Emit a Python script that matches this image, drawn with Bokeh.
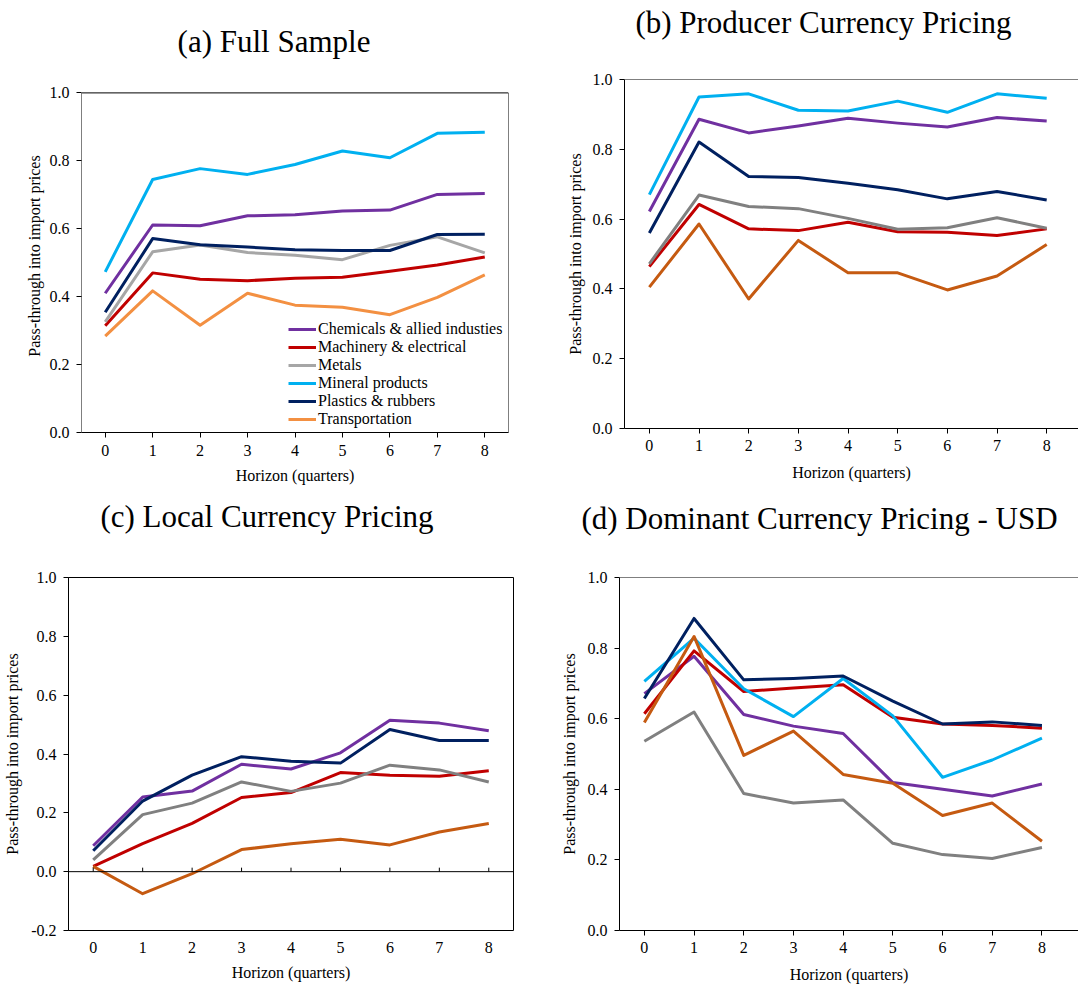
from bokeh.plotting import figure
from bokeh.layouts import column, row
from bokeh.models import (Legend, LegendItem, Span, FixedTicker, BoxAnnotation,
                          NumeralTickFormatter, Range1d)
from bokeh.core.properties import value
from bokeh.embed import file_html
from bokeh.resources import INLINE

# ---------------- data ----------------
horizon = [0, 1, 2, 3, 4, 5, 6, 7, 8]
series_names = ["Chemicals & allied industies", "Machinery & electrical", "Metals",
                "Mineral products", "Plastics & rubbers", "Transportation"]

# (a) Full Sample
a_chem = [0.410, 0.611, 0.609, 0.638, 0.641, 0.652, 0.655, 0.701, 0.704]
a_mach = [0.314, 0.470, 0.451, 0.447, 0.454, 0.457, 0.475, 0.493, 0.517]
a_metals = [0.326, 0.532, 0.552, 0.530, 0.522, 0.509, 0.551, 0.576, 0.529]
a_mineral = [0.473, 0.745, 0.777, 0.760, 0.789, 0.829, 0.809, 0.881, 0.884]
a_plastics = [0.354, 0.571, 0.553, 0.546, 0.538, 0.536, 0.536, 0.583, 0.584]
a_transport = [0.284, 0.417, 0.316, 0.410, 0.375, 0.369, 0.347, 0.398, 0.464]

# (b) Producer Currency Pricing
b_chem = [0.622, 0.886, 0.847, 0.867, 0.889, 0.875, 0.864, 0.891, 0.881]
b_mach = [0.464, 0.642, 0.572, 0.567, 0.591, 0.564, 0.562, 0.553, 0.572]
b_metals = [0.472, 0.669, 0.636, 0.630, 0.602, 0.571, 0.575, 0.604, 0.574]
b_mineral = [0.670, 0.950, 0.959, 0.912, 0.910, 0.938, 0.906, 0.959, 0.946]
b_plastics = [0.560, 0.821, 0.722, 0.719, 0.703, 0.684, 0.658, 0.679, 0.655]
b_transport = [0.405, 0.586, 0.371, 0.539, 0.446, 0.446, 0.397, 0.437, 0.527]

# (c) Local Currency Pricing
c_chem = [0.088, 0.254, 0.274, 0.365, 0.349, 0.404, 0.515, 0.505, 0.479]
c_mach = [0.018, 0.095, 0.164, 0.252, 0.269, 0.337, 0.328, 0.324, 0.343]
c_metals = [0.040, 0.194, 0.233, 0.305, 0.273, 0.301, 0.362, 0.346, 0.305]
c_plastics = [0.071, 0.240, 0.328, 0.391, 0.375, 0.369, 0.483, 0.446, 0.446]
c_transport = [0.018, -0.075, -0.007, 0.075, 0.095, 0.110, 0.091, 0.135, 0.164]

# (d) Dominant Currency Pricing - USD
d_chem = [0.671, 0.777, 0.612, 0.579, 0.558, 0.419, 0.400, 0.381, 0.415]
d_mach = [0.614, 0.792, 0.677, 0.687, 0.696, 0.604, 0.585, 0.581, 0.573]
d_metals = [0.536, 0.619, 0.388, 0.361, 0.370, 0.247, 0.215, 0.204, 0.235]
d_mineral = [0.706, 0.828, 0.685, 0.606, 0.714, 0.608, 0.434, 0.483, 0.545]
d_plastics = [0.657, 0.884, 0.710, 0.714, 0.721, 0.650, 0.585, 0.591, 0.581]
d_transport = [0.589, 0.833, 0.496, 0.565, 0.442, 0.417, 0.326, 0.361, 0.253]

yticks_pos = [0.0, 0.2, 0.4, 0.6, 0.8, 1.0]
yticks_neg = [-0.2, 0.0, 0.2, 0.4, 0.6, 0.8, 1.0]

titles = ["(a) Full Sample", "(b) Producer Currency Pricing",
          "(c) Local Currency Pricing", "(d) Dominant Currency Pricing - USD"]
x_label = "Horizon (quarters)"
y_label = "Pass-through into import prices"

# ---------------- styles ----------------
C_PURPLE = "#7030A0"
C_RED = "#C00000"
C_GRAY_L = "#A6A6A6"
C_GRAY_D = "#808080"
C_BLUE = "#00B0F0"
C_NAVY = "#002060"
C_ORANGE_L = "#F39042"
C_ORANGE_D = "#C55A11"
FONT = "Liberation Serif"
LW = 3


def title_fig(width, height, text, cx, cy):
    p = figure(width=width, height=height, frame_width=width, frame_height=height,
               min_border=0, x_range=Range1d(0, width), y_range=Range1d(height, 0),
               x_axis_location=None, y_axis_location=None,
               output_backend="svg", toolbar_location=None)
    p.outline_line_color = None
    p.xgrid.visible = False
    p.ygrid.visible = False
    p.background_fill_color = "white"
    p.border_fill_color = "white"
    p.text(x=[cx], y=[cy], text=[text], text_font=value(FONT),
           text_font_size=value("31px"), text_align="center",
           text_baseline="middle", text_color="black")
    return p


def make_panel(series, fl, fw, fr, ft, fh, fb, y0, y_end, x1, yticks, box_top,
               frame_mode, ylab_s, xs1, xs2, tick_out_x=5):
    x0 = -0.5
    p = figure(width=fl + fw + fr, height=ft + fh + fb,
               frame_width=fw, frame_height=fh,
               min_border_left=fl, min_border_right=fr,
               min_border_top=ft, min_border_bottom=fb,
               x_range=Range1d(x0, x1), y_range=Range1d(y0, y_end),
               output_backend="svg", toolbar_location=None)
    p.xgrid.visible = False
    p.ygrid.visible = False
    p.background_fill_color = "white"
    p.border_fill_color = "white"
    p.outline_line_color = "black" if frame_mode == "outline" else None
    p.outline_line_width = 1

    renderers = []
    for vals, color in series:
        r = p.line(horizon, vals, line_color=color, line_width=LW, line_join="round")
        renderers.append(r)

    for ax in (p.xaxis[0], p.yaxis[0]):
        ax.axis_line_color = "black"
        ax.axis_line_width = 1
        ax.major_tick_line_color = "black"
        ax.major_tick_in = 0
        ax.major_tick_out = 5
        ax.minor_tick_line_color = None
        ax.major_label_text_font = FONT
        ax.major_label_text_font_size = "16px"
        ax.major_label_text_color = "black"
        ax.axis_label_text_font = FONT
        ax.axis_label_text_font_size = "16px"
        ax.axis_label_text_font_style = "normal"
        ax.axis_label_text_color = "black"
    p.xaxis.ticker = FixedTicker(ticks=horizon)
    p.xaxis.axis_label = x_label
    p.xaxis.major_label_standoff = xs1
    p.xaxis.axis_label_standoff = xs2
    p.xaxis.major_tick_out = tick_out_x
    p.yaxis.ticker = FixedTicker(ticks=yticks)
    p.yaxis.formatter = NumeralTickFormatter(format="0.0")
    p.yaxis.axis_label = y_label
    p.yaxis.major_label_standoff = 7
    p.yaxis.axis_label_standoff = ylab_s

    if frame_mode == "box":
        p.yaxis.axis_line_color = None
        p.add_layout(BoxAnnotation(left=x0, right=x1, bottom=y0, top=box_top,
                                   fill_alpha=0, line_color="black", line_width=1,
                                   line_alpha=1))
    elif frame_mode == "span":
        p.add_layout(Span(location=box_top, dimension="width", line_color="black",
                          line_width=1))
    return p, renderers


# Titles
ta = title_fig(540, 60, titles[0], 273.5, 41)
tb = title_fig(538, 60, titles[1], 283, 22)
tc = title_fig(540, 60, titles[2], 266.5, 28)
td = title_fig(538, 60, titles[3], 279, 30)

# Panel (a)
pa, ra = make_panel(
    [(a_chem, C_PURPLE), (a_mach, C_RED), (a_metals, C_GRAY_L),
     (a_mineral, C_BLUE), (a_plastics, C_NAVY), (a_transport, C_ORANGE_L)],
    81, 427, 32, 19, 353, 56, 0.0, 353 / 339.6, 8.5, yticks_pos, 1.0, "box",
    4, 7, 8)
legend = Legend(items=[LegendItem(label=n, renderers=[r]) for n, r in zip(series_names, ra)],
                location=(207, 4), background_fill_alpha=0, border_line_color=None,
                padding=0, margin=0, spacing=0, glyph_width=28, glyph_height=18,
                label_height=18, label_standoff=2, label_text_font=FONT,
                label_text_font_size="16px", label_text_color="black")
pa.add_layout(legend)

# Panel (b)
pb, _ = make_panel(
    [(b_chem, C_PURPLE), (b_mach, C_RED), (b_metals, C_GRAY_D),
     (b_mineral, C_BLUE), (b_plastics, C_NAVY), (b_transport, C_ORANGE_D)],
    84, 454, 0, 19, 349, 60, 0.0, 1.0, -0.5 + 454 / 49.67, yticks_pos, 1.0, "span",
    6, 6, 10)

# Panel (c)
pc, _ = make_panel(
    [(c_chem, C_PURPLE), (c_mach, C_RED), (c_metals, C_GRAY_D),
     (c_plastics, C_NAVY), (c_transport, C_ORANGE_D)],
    68, 445, 27, 29, 353, 54, -0.2, 1.0, 8.5, yticks_neg, 1.0, "outline",
    7, 11, 8, tick_out_x=0)
pc.xaxis.axis_line_color = None
pc.xaxis.major_tick_line_color = None
pc.add_layout(Span(location=0, dimension="width", line_color="black", line_width=1))
tick_len = 4 * (1.0 - (-0.2)) / 353
pc.segment(x0=horizon, y0=[0] * len(horizon), x1=horizon, y1=[tick_len] * len(horizon),
           line_color="black", line_width=1)

# Panel (d)
pd_, _ = make_panel(
    [(d_chem, C_PURPLE), (d_mach, C_RED), (d_metals, C_GRAY_D),
     (d_mineral, C_BLUE), (d_plastics, C_NAVY), (d_transport, C_ORANGE_D)],
    79, 459, 0, 29, 353, 54, 0.0, 1.0, -0.5 + 459 / 49.7, yticks_pos, 1.0, "span",
    7, 6, 10)

layout = column(row(ta, tb), row(pa, pb), row(tc, td), row(pc, pd_))
open("out.html", "w").write(file_html(layout, INLINE))
